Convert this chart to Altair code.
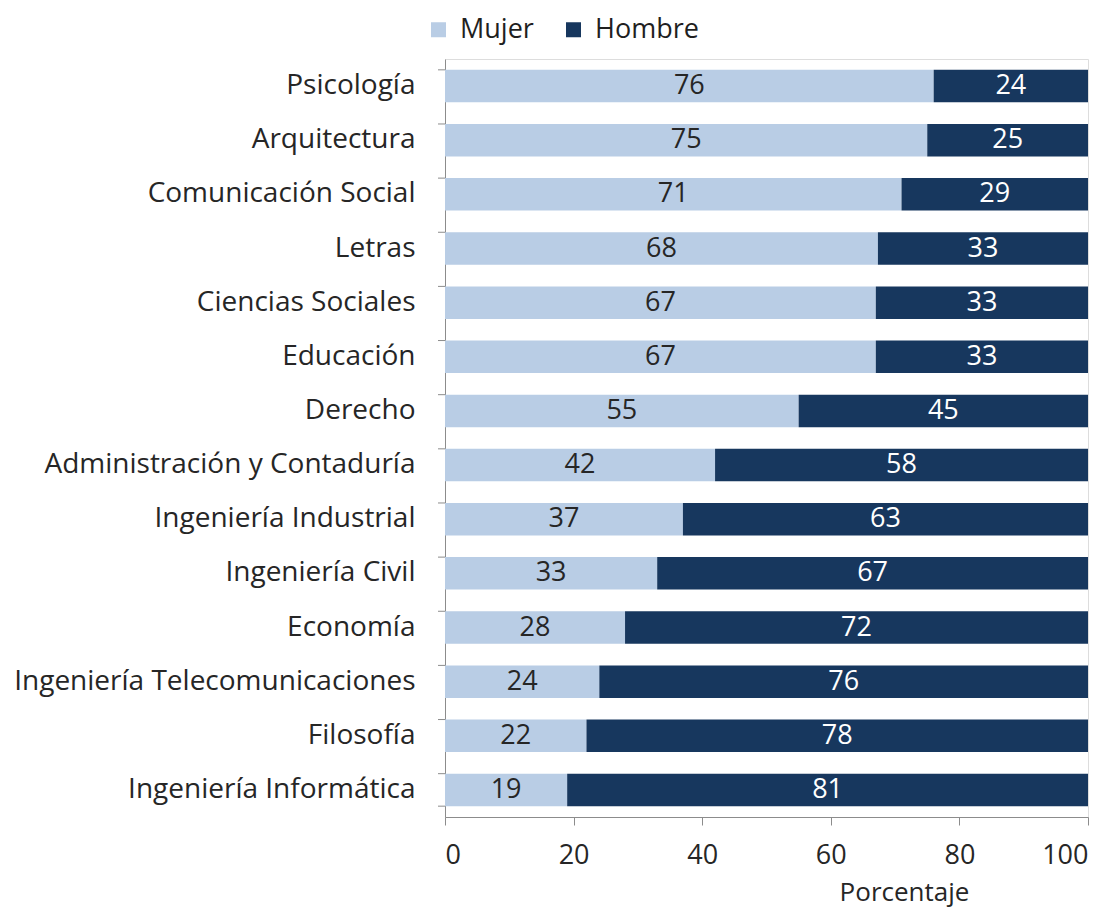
import altair as alt
import pandas as pd

categorias = ["Psicología", "Arquitectura", "Comunicación Social", "Letras",
              "Ciencias Sociales", "Educación", "Derecho",
              "Administración y Contaduría", "Ingeniería Industrial",
              "Ingeniería Civil", "Economía", "Ingeniería Telecomunicaciones",
              "Filosofía", "Ingeniería Informática"]
mujer = [76, 75, 71, 68, 67, 67, 55, 42, 37, 33, 28, 24, 22, 19]
hombre = [24, 25, 29, 33, 33, 33, 45, 58, 63, 67, 72, 76, 78, 81]
series = ["Mujer", "Hombre"]
colores = ["#b9cde5", "#17375e"]
ticks_x = [0, 20, 40, 60, 80, 100]

rows = []
for c, m, h in zip(categorias, mujer, hombre):
    rows.append({"cat": c, "serie": "Mujer", "valor": m, "orden": 0})
    rows.append({"cat": c, "serie": "Hombre", "valor": h, "orden": 1})
df = pd.DataFrame(rows)

FONT = "Open Sans"
TXT = "#262626"

yscale = alt.Scale(domain=categorias, paddingInner=0.4, paddingOuter=0.2)
xscale = alt.Scale(domain=[0, 1], nice=False)

base = alt.Chart(df).transform_stack(
    stack="valor", groupby=["cat"], as_=["x0", "x1"], offset="normalize",
    sort=[alt.SortField("orden")]
).transform_calculate(mid="(datum.x0 + datum.x1) / 2")

bars = base.mark_bar().encode(
    y=alt.Y("cat:N", scale=yscale, sort=categorias, title=None,
            axis=alt.Axis(ticks=False, labelPadding=30, labelFontSize=28,
                          labelFont=FONT, labelColor=TXT,
                          domainColor="#8c8c8c", labelLimit=600)),
    x=alt.X("x0:Q", scale=xscale, title="Porcentaje",
            axis=alt.Axis(values=[v / 100 for v in ticks_x],
                          labelExpr="format(datum.value * 100, 'd')",
                          grid=False, tickSize=8, tickColor="#8c8c8c",
                          domainColor="#8c8c8c", labelFontSize=27,
                          labelFont=FONT, labelColor=TXT,
                          labelPadding=17, titleFont=FONT, titleFontSize=26,
                          titleFontWeight="normal", titleColor=TXT,
                          titleX=459, titleY=62, titleAnchor="middle")),
    x2="x1:Q",
    color=alt.Color("serie:N", scale=alt.Scale(domain=series, range=colores),
                    legend=alt.Legend(title=None, orient="none", legendX=-20,
                                      legendY=-43, direction="horizontal",
                                      symbolType="square", symbolSize=225,
                                      symbolStrokeWidth=0, labelFontSize=27,
                                      labelFont=FONT, labelColor="#1f1f1f",
                                      columnPadding=26, labelOffset=8)),
)

text = base.mark_text(fontSize=27, font=FONT).encode(
    y=alt.Y("cat:N", scale=yscale, sort=categorias),
    x=alt.X("mid:Q", scale=xscale),
    text=alt.Text("valor:Q"),
    color=alt.Color("serie:N", scale=alt.Scale(domain=series, range=[TXT, "#ffffff"]),
                    legend=None),
)

tick_df = pd.DataFrame({"cat": categorias})
yticks = alt.Chart(tick_df).mark_rule(color="#8c8c8c").encode(
    y=alt.Y("cat:N", scale=yscale, sort=categorias, bandPosition=0),
    x=alt.value(-7), x2=alt.value(0),
)
yticks_end = alt.Chart(tick_df).transform_filter(
    alt.datum.cat == categorias[-1]
).mark_rule(color="#8c8c8c").encode(
    y=alt.Y("cat:N", scale=yscale, sort=categorias, bandPosition=1),
    x=alt.value(-7), x2=alt.value(0),
)

chart = alt.layer(bars, text, yticks, yticks_end).resolve_scale(
    color="independent"
).properties(
    width=643, height=758,
    padding={"top": 8, "bottom": 5, "left": 5, "right": 5},
).configure_view(
    fill="#f2f2f2", stroke=None
).configure(background="white")

chart.save("out.html", embed_options={"renderer": "svg", "actions": False})
